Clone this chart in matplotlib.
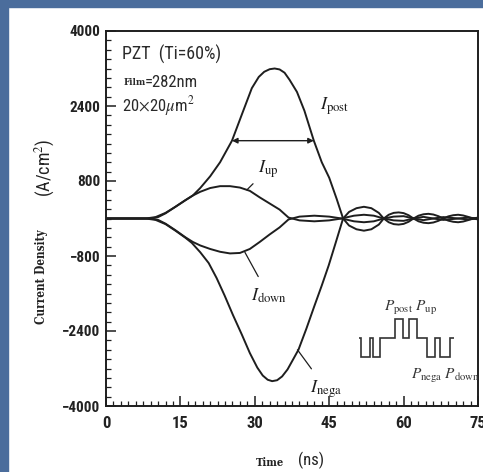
import matplotlib
matplotlib.use("Agg")
import matplotlib.pyplot as plt
from matplotlib.ticker import MultipleLocator, FixedLocator
from matplotlib.patches import Rectangle
from matplotlib import font_manager

plt.rcParams['mathtext.fontset'] = 'stix'
names = {f.name for f in font_manager.fontManager.ttflist}
narrow = [n for n in ['Liberation Sans Narrow', 'DejaVu Sans Condensed', 'Roboto Condensed',
                      'Open Sans Condensed'] if n in names]
plt.rcParams['font.family'] = narrow + ['Liberation Sans', 'DejaVu Sans']
plt.rcParams['font.stretch'] = 'condensed'

# ---------------- data ----------------
t_post = [0, 8, 10, 12, 14, 16, 17.5, 19, 21, 23, 25.4, 27.5, 29.4, 30.8, 31.9, 33, 34, 35, 36,
          37, 38.5, 40, 41.9, 43.5, 45, 46.5, 47.8, 49, 50.5, 52, 53.5, 55, 56, 57, 58, 59, 60,
          61, 62, 63, 64, 65, 66, 67, 68, 69, 70, 71, 72, 73, 74, 75]
i_post = [0, 0, 30, 120, 250, 390, 490, 650, 900, 1200, 1660, 2250, 2780, 3020, 3130, 3185, 3200, 3180, 3110,
          2960, 2700, 2300, 1660, 1200, 870, 420, 0, -150, -230, -260, -230, -130, 0, 80, 120, 130, 115,
          70, 0, -60, -90, -100, -85, -50, 0, 45, 70, 80, 65, 35, 0, -20]

t_nega = [0, 8, 10, 12, 14, 16, 17.3, 19, 20.7, 22.3, 23.9, 25.6, 27.4, 29, 30.5, 31.6, 32.6, 33.5,
          34.5, 35.5, 36.6, 37.6, 38.8, 40.4, 42, 43.5, 44.9, 46.3, 47.8, 49, 50.5, 52, 53.5, 55, 56,
          57, 58, 59, 60, 61, 62, 63, 64, 65, 66, 67, 68, 69, 70, 71, 72, 73, 74, 75]
i_nega = [0, 0, -30, -120, -260, -410, -520, -720, -950, -1270, -1640, -2060, -2480, -2870, -3180, -3350, -3440, -3470,
          -3450, -3370, -3220, -3030, -2800, -2350, -1870, -1430, -1000, -520, 0, 140, 220, 250, 220, 120, 0,
          -80, -120, -130, -115, -70, 0, 60, 90, 100, 85, 50, 0, -45, -70, -80, -65, -35, 0, 20]

t_updown = [0, 9, 10.5, 12, 14, 16, 17.5, 19, 21, 23, 25, 27, 29, 31, 33, 35, 36.8, 39, 42, 45,
            47.5, 50, 52, 54, 56, 58, 60, 62, 64, 66, 68, 71, 73, 75]
i_up = [0, 0, 30, 110, 250, 390, 490, 570, 650, 690, 690, 660, 590, 450, 320, 190, 20, -40, -60, -40,
        0, 60, 80, 60, 0, -40, -50, 0, 35, 0, -30, 0, 20, 0]
i_down = [0, 0, -30, -110, -250, -400, -500, -575, -650, -710, -745, -735, -650, -500, -340, -190, -20, 40, 60, 40,
          0, -60, -80, -60, 0, 40, 50, 0, -35, 0, 30, 0, -20, 0]

fwhm_t = [25.4, 41.9]
fwhm_level = 1660

x_ticks = [0, 15, 30, 45, 60, 75]
y_ticks = [-4000, -2400, -800, 800, 2400, 4000]

pulse_edges = [0, 0.2, 1.0, 1.3, 2.0, 3.4, 4.2, 4.7, 5.5, 6.4, 7.2, 7.7, 8.6, 9.0]
pulse_levels = [0, -1, 0, -1, 0, 1, 0, 1, 0, -1, 0, -1, 0]

# ---------------- figure ----------------
W, H = 483, 472
fig = plt.figure(figsize=(W / 100, H / 100), dpi=100)
fig.patch.set_facecolor('white')

blue = '#4b6d9c'
fig.patches.append(Rectangle((0, 0), 8 / W, 1, transform=fig.transFigure, color=blue, zorder=0))
fig.patches.append(Rectangle((0, 1 - 7 / H), 1, 7 / H, transform=fig.transFigure, color=blue, zorder=0))

ax = fig.add_axes([106 / W, 1 - 406 / H, (478 - 106) / W, (406 - 31) / H])
ax.set_xlim(0, 75)
ax.set_ylim(-4000, 4000)

lc = '#1e1e1e'
lw = 1.4
ax.plot(t_post, i_post, color=lc, lw=lw)
ax.plot(t_nega, i_nega, color=lc, lw=lw)
ax.plot(t_updown, i_up, color=lc, lw=lw)
ax.plot(t_updown, i_down, color=lc, lw=lw)

ax.annotate('', xy=(fwhm_t[1], fwhm_level), xytext=(fwhm_t[0], fwhm_level),
            arrowprops=dict(arrowstyle='<|-|>', color=lc, lw=1.0, mutation_scale=8,
                            shrinkA=0, shrinkB=0))

lab_fs = 13
ax.text(43.2, 2400, r'$I_{\rm post}$', fontsize=lab_fs, ha='left', va='center', color=lc)
ax.annotate(r'$I_{\rm up}$', xy=(28.4, 610), xytext=(30.6, 1060), fontsize=lab_fs,
            ha='left', va='center', color=lc,
            arrowprops=dict(arrowstyle='-', color=lc, lw=0.9, shrinkA=2, shrinkB=0))
ax.annotate(r'$I_{\rm down}$', xy=(28.0, -720), xytext=(29.2, -1650), fontsize=lab_fs,
            ha='left', va='center', color=lc,
            arrowprops=dict(arrowstyle='-', color=lc, lw=0.9, shrinkA=6, shrinkB=0))
ax.annotate(r'$I_{\rm nega}$', xy=(38.6, -2800), xytext=(41.2, -3640), fontsize=lab_fs,
            ha='left', va='center', color=lc,
            arrowprops=dict(arrowstyle='-', color=lc, lw=0.9, shrinkA=6, shrinkB=0))

tc = '#2a2a2a'
ax.text(3.2, 3500, 'PZT  (Ti=60%)', fontsize=13, ha='left', va='center', color=tc)
ax.text(3.5, 2900, 'Film', fontsize=7, fontweight='bold', ha='left', va='center', color=tc,
        family=['DejaVu Serif'])
ax.text(7.9, 2900, '=282nm', fontsize=12, ha='left', va='center', color=tc)
ax.text(3.2, 2400, r'20$\times$20$\mu$m$^2$', fontsize=12, ha='left', va='center', color=tc)

ax.xaxis.set_major_locator(FixedLocator(x_ticks))
ax.xaxis.set_minor_locator(MultipleLocator(1.5))
ax.yaxis.set_major_locator(FixedLocator(y_ticks))
ax.yaxis.set_minor_locator(MultipleLocator(200))
ax.tick_params(which='both', direction='in', color=lc, labelcolor='#222222')
ax.tick_params(which='major', length=7, width=1.1)
ax.tick_params(which='minor', length=3.5, width=0.9)
ax.tick_params(axis='y', labelsize=11, pad=4)
ax.tick_params(axis='x', labelsize=12, pad=7)
for lab in ax.get_xticklabels() + ax.get_yticklabels():
    lab.set_fontweight('bold')
for s in ax.spines.values():
    s.set_linewidth(1.4)
    s.set_color(lc)

fig.text(45 / W, 1 - 168 / H, r'(A/cm$^2$)', rotation=90, ha='center', va='center',
         fontsize=13, color='#222222')
fig.text(42 / W, 1 - 277 / H, 'Current Density', rotation=90, ha='center', va='center',
         fontsize=8.5, fontweight='bold', color='#222222', family=['DejaVu Serif'])
fig.text(270 / W, 1 - 462 / H, 'Time', ha='center', va='center',
         fontsize=8, fontweight='bold', color='#222222', family=['DejaVu Serif'])
fig.text(311 / W, 1 - 460 / H, '(ns)', ha='center', va='center', fontsize=12, color='#222222')

ins = fig.add_axes([358 / W, 1 - 360 / H, 97 / W, 44 / H])
ins.stairs(pulse_levels, pulse_edges, color='#333333', lw=1.2, baseline=None)
ins.set_xlim(-0.1, 9.1)
ins.set_ylim(-1.15, 1.15)
ins.axis('off')
fig.text(384 / W, 1 - 308 / H, r'$P_{\rm post}\ P_{\rm up}$', fontsize=11, ha='left', va='center', color='#333333')
fig.text(411 / W, 1 - 376 / H, r'$P_{\rm nega}\ P_{\rm down}$', fontsize=11, ha='left', va='center', color='#333333')

fig.savefig('out.png', dpi=100, facecolor=fig.get_facecolor())
